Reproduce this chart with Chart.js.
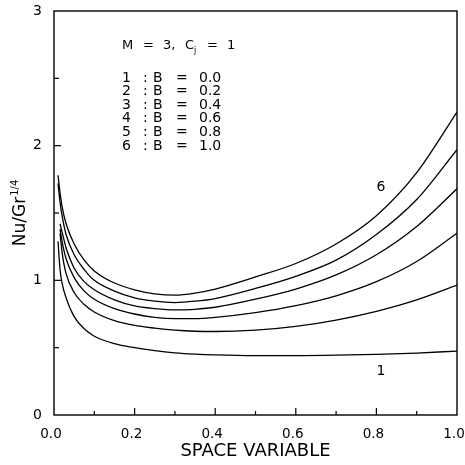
<!DOCTYPE html>
<html>
<head>
<meta charset="utf-8">
<script src="https://cdn.jsdelivr.net/npm/chart.js@4.4.1/dist/chart.umd.min.js"></script>
<style>
    html, body { margin: 0; padding: 0; background: #fff; }
    #nu-chart { display: block; }
</style>
</head>
<body>
<canvas id="nu-chart" width="465" height="465"></canvas>
<script>
// Space variable (x axis)
const spaceVar = [0.01, 0.015, 0.02, 0.03, 0.05, 0.075, 0.1, 0.15, 0.2, 0.25, 0.3, 0.35, 0.4, 0.5, 0.6, 0.7, 0.8, 0.9, 1.0];

// Nu/Gr^1/4 for each B value
const curveB00 = [1.29, 1.08, 0.98, 0.87, 0.73, 0.64, 0.585, 0.53, 0.50, 0.478, 0.462, 0.452, 0.446, 0.441, 0.441, 0.444, 0.45, 0.46, 0.475];
const curveB02 = [null, 1.35, 1.21, 1.05, 0.91, 0.82, 0.765, 0.70, 0.665, 0.645, 0.63, 0.622, 0.62, 0.63, 0.658, 0.705, 0.77, 0.855, 0.965];
const curveB04 = [null, 1.38, 1.29, 1.16, 1.02, 0.92, 0.86, 0.79, 0.75, 0.725, 0.715, 0.715, 0.725, 0.76, 0.812, 0.885, 0.99, 1.14, 1.35];
const curveB06 = [null, 1.42, 1.36, 1.24, 1.09, 0.99, 0.93, 0.855, 0.81, 0.79, 0.78, 0.785, 0.80, 0.86, 0.935, 1.04, 1.19, 1.40, 1.68];
const curveB08 = [1.72, 1.58, 1.48, 1.34, 1.19, 1.08, 1.00, 0.92, 0.87, 0.845, 0.835, 0.845, 0.865, 0.94, 1.03, 1.15, 1.34, 1.60, 1.97];
const curveB10 = [1.78, 1.65, 1.55, 1.42, 1.27, 1.15, 1.07, 0.98, 0.93, 0.90, 0.89, 0.905, 0.935, 1.025, 1.125, 1.27, 1.48, 1.80, 2.25];

const allCurves = [curveB00, curveB02, curveB04, curveB06, curveB08, curveB10];
const bValues = ["0.0", "0.2", "0.4", "0.6", "0.8", "1.0"];

// Curve labels placed on the plot (curve number, x, y in data units)
const curveLabels = [
    { text: "6", x: 0.811, y: 1.69 },
    { text: "1", x: 0.811, y: 0.327 },
];

const FONT = "'DejaVu Sans', sans-serif";

// Build the {x, y} points for one curve, skipping missing values
function toPoints(values) {
    const points = [];
    values.forEach((v, i) => {
        if (v !== null) points.push({ x: spaceVar[i], y: v });
    });
    return points;
}

// Fix the axis box size and drop the label overhang padding
function fixSize(size) {
    return function (scale) {
        if (scale.isHorizontal()) scale.height = size;
        else scale.width = size;
        scale.paddingLeft = 0;
        scale.paddingRight = 0;
        scale.paddingTop = 0;
        scale.paddingBottom = 0;
    };
}

// Draws frame, inward tick marks, the y title and the annotation text
const decorations = {
    id: "decorations",
    afterDraw(chart) {
        const ctx = chart.ctx;
        const area = chart.chartArea;
        const xScale = chart.scales.x;
        const yScale = chart.scales.y;

        ctx.save();
        ctx.strokeStyle = "#000";
        ctx.lineWidth = 1.4;
        ctx.strokeRect(area.left, area.top, area.right - area.left, area.bottom - area.top);

        // inward ticks on the bottom axis
        ctx.lineWidth = 1.2;
        xScale.ticks.forEach((t) => {
            const v = t.value;
            if (v <= 0 || v >= 1) return;
            const px = xScale.getPixelForValue(v);
            const len = Math.round(v * 10) % 2 === 0 ? 7 : 4;
            ctx.beginPath();
            ctx.moveTo(px, area.bottom);
            ctx.lineTo(px, area.bottom - len);
            ctx.stroke();
        });

        // inward ticks on the left axis
        yScale.ticks.forEach((t) => {
            const v = t.value;
            if (v <= 0 || v >= 3) return;
            const py = yScale.getPixelForValue(v);
            const len = Number.isInteger(v) ? 7 : 5;
            ctx.beginPath();
            ctx.moveTo(area.left, py);
            ctx.lineTo(area.left + len, py);
            ctx.stroke();
        });

        ctx.fillStyle = "#000";

        // y axis title: Nu/Gr^1/4, rotated
        const mainFont = "17px " + FONT;
        const supFont = "10px " + FONT;
        ctx.font = mainFont;
        const mainW = ctx.measureText("Nu/Gr").width;
        ctx.font = supFont;
        const supW = ctx.measureText("1/4").width;
        ctx.save();
        ctx.translate(25, (area.top + area.bottom) / 2);
        ctx.rotate(-Math.PI / 2);
        ctx.textBaseline = "alphabetic";
        ctx.textAlign = "left";
        const start = -(mainW + supW + 1) / 2;
        ctx.font = mainFont;
        ctx.fillText("Nu/Gr", start, 0);
        ctx.font = supFont;
        ctx.fillText("1/4", start + mainW + 1, -7);
        ctx.restore();

        // parameter block
        ctx.textBaseline = "middle";
        ctx.textAlign = "left";
        const left = area.left + 68;
        ctx.font = "13px " + FONT;
        ctx.fillText("M", left, 46);
        ctx.fillText("=", left + 21, 46);
        ctx.fillText("3,", left + 41, 46);
        ctx.fillText("C", left + 63, 46);
        ctx.font = "8px " + FONT;
        ctx.fillText("j", left + 72, 51);
        ctx.font = "13px " + FONT;
        ctx.fillText("=", left + 85, 46);
        ctx.fillText("1", left + 105, 46);

        ctx.font = "14px " + FONT;
        bValues.forEach((b, i) => {
            const y = 78 + i * 13.6;
            ctx.fillText(String(i + 1), left, y);
            ctx.fillText(":", left + 21, y);
            ctx.fillText("B", left + 31, y);
            ctx.fillText("=", left + 54, y);
            ctx.fillText(b, left + 77, y);
        });

        // curve numbers
        ctx.textAlign = "center";
        curveLabels.forEach((lbl) => {
            ctx.fillText(lbl.text, xScale.getPixelForValue(lbl.x), yScale.getPixelForValue(lbl.y));
        });
        ctx.restore();
    },
};

const ctx = document.getElementById("nu-chart").getContext("2d");
const nuChart = new Chart(ctx, {
    type: "line",
    data: {
        datasets: allCurves.map((curve, i) => ({
            label: "B = " + bValues[i],
            data: toPoints(curve),
            borderColor: "#000",
            borderWidth: 1.3,
            pointRadius: 0,
            fill: false,
            cubicInterpolationMode: "monotone",
        })),
    },
    options: {
        responsive: false,
        animation: false,
        devicePixelRatio: 1,
        layout: {
            padding: { left: 0, top: 11, right: 8, bottom: 0 },
        },
        plugins: {
            legend: { display: false },
            tooltip: { enabled: false },
        },
        scales: {
            x: {
                type: "linear",
                min: 0,
                max: 1,
                afterFit: fixSize(50),
                grid: { display: false, drawTicks: false },
                border: { display: false },
                ticks: {
                    stepSize: 0.1,
                    autoSkip: false,
                    maxRotation: 0,
                    padding: 11,
                    labelOffset: -3,
                    color: "#000",
                    font: { family: FONT, size: 13.5 },
                    callback(value) {
                        const tenths = Math.round(value * 10);
                        return tenths % 2 === 0 ? value.toFixed(1) : "";
                    },
                },
                title: {
                    display: true,
                    text: "SPACE VARIABLE",
                    color: "#000",
                    font: { family: FONT, size: 18 },
                    padding: { top: 0, bottom: 3 },
                },
            },
            y: {
                min: 0,
                max: 3,
                afterFit: fixSize(54),
                grid: { display: false, drawTicks: false },
                border: { display: false },
                ticks: {
                    stepSize: 0.5,
                    autoSkip: false,
                    padding: 12,
                    color: "#000",
                    font: { family: FONT, size: 14 },
                    callback(value) {
                        return Number.isInteger(value) ? String(value) : "";
                    },
                },
            },
        },
    },
    plugins: [decorations],
});
</script>
</body>
</html>
